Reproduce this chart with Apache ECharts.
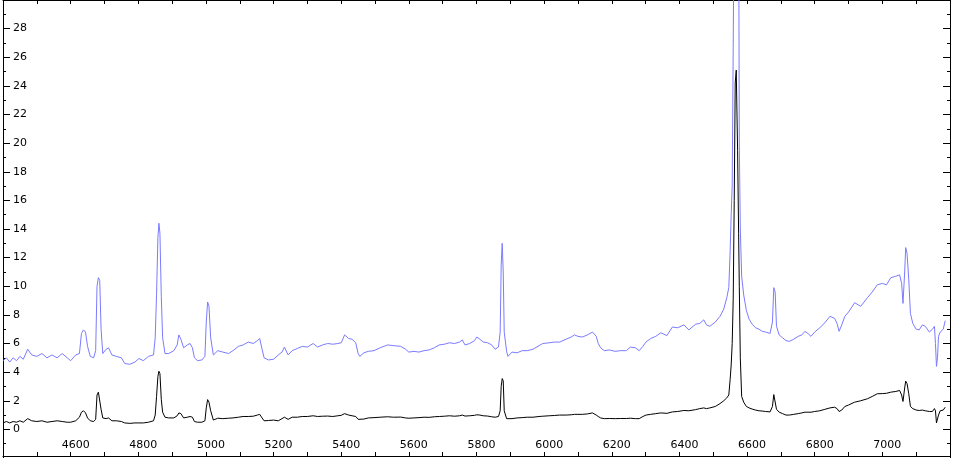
<!DOCTYPE html>
<html>
<head>
<meta charset="utf-8">
<script src="https://cdn.jsdelivr.net/npm/echarts@6/dist/echarts.min.js"></script>
<style>
html,body{margin:0;padding:0;background:#fff;}
#chart{width:953px;height:458px;}
</style>
</head>
<body>
<div id="chart"></div>
<script>
// Wavelength grid (Å)
const wavelength = [
4400,4410,4420,4430,4440,4450,4460,4473,4485,4500,4515,4530,4545,4560,4575,4590,4600,4615,4626,4632,4638,4644,4650,4658,4668,4674,4678,4682,4686,4690,4695,4705,4712,4722,4735,4750,4760,4775,4790,4802,4815,4830,4845,4850,4854,4858,4861,4864,4868,4872,4879,4890,4905,4915,4920,4926,4934,4945,4953,4960,4966,4975,4988,4997,5001,5005,5009,5014,5022,5035,5050,5067,5080,5096,5110,5125,5140,5152,5159,5166,5172,5185,5200,5214,5225,5232,5243,5255,5270,5285,5300,5317,5330,5345,5360,5375,5390,5400,5410,5414,5422,5432,5443,5450,5455,5467,5480,5497,5515,5537,5555,5576,5590,5600,5615,5630,5645,5660,5675,5690,5705,5720,5735,5750,5758,5766,5780,5794,5801,5810,5820,5833,5845,5855,5865,5870,5873,5876,5879,5882,5889,5893,5905,5920,5935,5950,5967,5985,5996,6015,6030,6046,6065,6080,6090,6100,6113,6128,6143,6154,6160,6167,6178,6193,6210,6225,6243,6255,6270,6281,6292,6301,6315,6330,6345,6363,6379,6395,6413,6428,6448,6460,6472,6480,6490,6506,6520,6531,6540,6546,6550,6553,6556,6559,6562,6565,6568,6572,6575,6577,6580,6584,6590,6598,6606,6615,6625,6635,6645,6655,6668,6675,6679,6683,6687,6695,6705,6715,6725,6738,6751,6762,6771,6780,6789,6800,6815,6830,6845,6859,6866,6872,6880,6889,6900,6918,6936,6956,6970,6985,7000,7012,7025,7040,7051,7057,7061,7066,7069,7073,7078,7083,7090,7100,7109,7118,7127,7139,7148,7154,7157,7160,7163,7166,7171,7180,7186
];
// Upper (blue) spectrum
const fluxBlue = [
4.8,5.0,4.7,5.0,4.8,5.1,4.9,5.6,5.2,5.1,5.3,5.0,5.2,5.0,5.3,5.0,4.8,5.2,5.3,6.7,6.95,6.8,5.8,5.1,5.0,5.5,10.0,10.6,10.4,7.0,5.3,5.6,5.7,5.2,5.1,5.0,4.6,4.55,4.7,4.95,4.8,5.1,5.2,6.4,9.4,13.4,14.4,13.7,9.3,6.4,5.3,5.3,5.5,5.9,6.6,6.3,5.7,5.9,6.0,5.7,5.0,4.8,4.85,5.1,7.5,8.9,8.6,6.4,5.2,5.5,5.4,5.3,5.5,5.8,5.9,6.1,6.0,6.2,6.35,5.6,5.0,4.85,4.9,5.2,5.4,5.75,5.2,5.5,5.65,5.8,5.75,6.0,5.75,5.9,6.0,5.95,6.0,6.05,6.6,6.7,6.35,6.3,6.05,5.3,5.1,5.35,5.45,5.5,5.7,5.9,5.85,5.8,5.6,5.4,5.45,5.4,5.5,5.55,5.7,5.9,5.95,6.05,6.0,6.1,6.25,5.9,6.0,6.2,6.45,6.3,6.1,6.05,5.9,5.6,5.75,6.8,11.5,13.0,11.0,6.8,5.45,5.1,5.4,5.35,5.5,5.5,5.6,5.85,6.0,6.05,6.1,6.1,6.3,6.45,6.6,6.5,6.45,6.6,6.8,6.5,6.0,5.7,5.5,5.55,5.45,5.5,5.5,5.75,5.7,5.5,5.8,6.1,6.35,6.5,6.75,6.55,7.15,7.1,7.3,6.95,7.35,7.4,7.65,7.3,7.2,7.5,7.9,8.4,9.2,9.9,12.5,15.0,17.0,26.7,38,38,38,38,38,20.0,14.0,10.7,9.4,8.3,7.7,7.35,7.1,7.0,6.85,6.8,6.7,7.5,9.9,9.6,7.2,6.6,6.4,6.2,6.15,6.3,6.5,6.6,6.85,6.7,6.5,6.8,7.1,7.45,7.9,7.75,7.4,6.85,7.3,7.9,8.2,8.85,8.6,9.2,9.6,10.1,10.2,10.1,10.6,10.7,10.8,10.2,8.8,11.0,12.7,12.3,10.5,8.1,7.4,7.0,6.95,7.3,7.2,6.8,7.0,7.2,6.0,4.4,5.0,6.5,6.8,7.0,7.6
];
// Lower (black) spectrum
const fluxBlack = [
0.45,0.55,0.45,0.55,0.5,0.6,0.5,0.75,0.6,0.55,0.6,0.5,0.55,0.6,0.55,0.5,0.5,0.6,0.85,1.2,1.3,1.15,0.8,0.6,0.55,0.7,2.4,2.6,2.55,1.4,0.8,0.75,0.8,0.6,0.6,0.55,0.45,0.42,0.45,0.45,0.45,0.5,0.6,1.0,2.3,3.7,4.06,3.9,2.1,1.2,0.85,0.8,0.8,0.95,1.15,1.1,0.8,0.85,0.9,0.85,0.55,0.5,0.5,0.6,1.5,2.08,1.9,1.3,0.65,0.78,0.75,0.78,0.8,0.85,0.9,0.9,0.92,1.0,1.05,0.8,0.6,0.62,0.65,0.6,0.75,0.85,0.7,0.85,0.85,0.9,0.9,0.95,0.9,0.92,0.93,0.9,0.95,0.98,1.1,1.15,1.0,0.95,0.9,0.7,0.62,0.72,0.8,0.82,0.85,0.88,0.85,0.86,0.8,0.78,0.8,0.82,0.85,0.84,0.88,0.9,0.92,0.95,0.92,0.95,1.0,0.93,0.95,0.98,1.02,1.0,0.95,0.93,0.88,0.85,0.9,1.3,3.0,3.55,3.4,1.3,0.75,0.62,0.75,0.8,0.82,0.85,0.85,0.9,0.92,0.95,0.97,1.0,1.0,1.02,1.05,1.05,1.05,1.08,1.15,1.0,0.9,0.8,0.75,0.76,0.75,0.76,0.76,0.78,0.75,0.75,0.9,1.0,1.05,1.1,1.15,1.12,1.22,1.25,1.32,1.3,1.38,1.45,1.5,1.45,1.5,1.6,1.8,2.0,2.2,2.4,3.5,4.5,6.0,9.1,16.0,24.2,25.1,19.5,13.7,10.0,5.0,2.3,1.9,1.6,1.5,1.42,1.35,1.3,1.28,1.25,1.22,1.6,2.43,2.35,1.4,1.2,1.1,1.0,1.0,1.05,1.1,1.15,1.2,1.2,1.2,1.25,1.3,1.4,1.5,1.55,1.45,1.25,1.35,1.6,1.7,1.9,2.0,2.14,2.3,2.49,2.5,2.52,2.6,2.65,2.72,2.4,1.95,2.9,3.37,3.2,2.5,1.6,1.45,1.35,1.32,1.35,1.3,1.25,1.25,1.45,1.3,0.45,0.4,1.0,1.3,1.35,1.55
];
// Axis settings
const xMin = 4400, xMax = 7200, xStep = 100;
const yMin = -2, yMax = 30, yStep = 2;

const blueData = wavelength.map((w, i) => [w, fluxBlue[i]]);
const blackData = wavelength.map((w, i) => [w, fluxBlack[i]]);

const chart = echarts.init(document.getElementById('chart'), null, {renderer: 'canvas'});
const font = {fontFamily: 'DejaVu Sans', fontSize: 11, color: '#000'};
const lineStyle = {color: '#000', width: 1};

chart.setOption({
  animation: false,
  backgroundColor: '#fff',
  grid: {left: 0, right: 0, top: 0, bottom: -1, containLabel: false},
  xAxis: [
    {
      type: 'value', position: 'bottom', min: xMin, max: xMax, interval: xStep, offset: -2,
      axisLine: {show: true, onZero: false, lineStyle: lineStyle},
      axisTick: {show: true, inside: true, length: 4, lineStyle: lineStyle},
      axisLabel: {
        show: true, inside: true, margin: 5, ...font, padding: [0, 0, 0, 10],
        formatter: v => (v % 200 === 0 && v > xMin && v < xMax) ? String(v) : ''
      },
      splitLine: {show: false}
    },
    {
      type: 'value', position: 'top', min: xMin, max: xMax, interval: xStep,
      axisLine: {show: true, onZero: false, lineStyle: lineStyle},
      axisTick: {show: true, inside: true, length: 4, lineStyle: lineStyle},
      axisLabel: {show: false},
      splitLine: {show: false}
    }
  ],
  yAxis: [
    {
      type: 'value', position: 'left', min: yMin, max: yMax, interval: yStep,
      axisLine: {show: true, onZero: false, lineStyle: lineStyle},
      axisTick: {show: true, inside: true, length: 7, lineStyle: lineStyle},
      minorTick: {show: true, splitNumber: 2, length: 3, lineStyle: lineStyle},
      axisLabel: {
        show: true, inside: true, margin: 10, ...font,
        formatter: v => (v >= 0 && v < yMax) ? String(v) : ''
      },
      splitLine: {show: false}
    },
    {
      type: 'value', position: 'right', min: yMin, max: yMax, interval: yStep,
      axisLine: {show: true, onZero: false, lineStyle: lineStyle},
      axisTick: {show: true, inside: true, length: 7, lineStyle: lineStyle},
      minorTick: {show: true, splitNumber: 2, length: 3, lineStyle: lineStyle},
      axisLabel: {show: false},
      splitLine: {show: false}
    }
  ],
  series: [
    {
      type: 'line', xAxisIndex: 0, yAxisIndex: 0, data: blueData,
      showSymbol: false, symbol: 'none', clip: true,
      lineStyle: {color: '#7b7bff', width: 1}
    },
    {
      type: 'line', xAxisIndex: 0, yAxisIndex: 0, data: blackData,
      showSymbol: false, symbol: 'none', clip: true,
      lineStyle: {color: '#000000', width: 1}
    }
  ]
});
</script>
</body>
</html>
